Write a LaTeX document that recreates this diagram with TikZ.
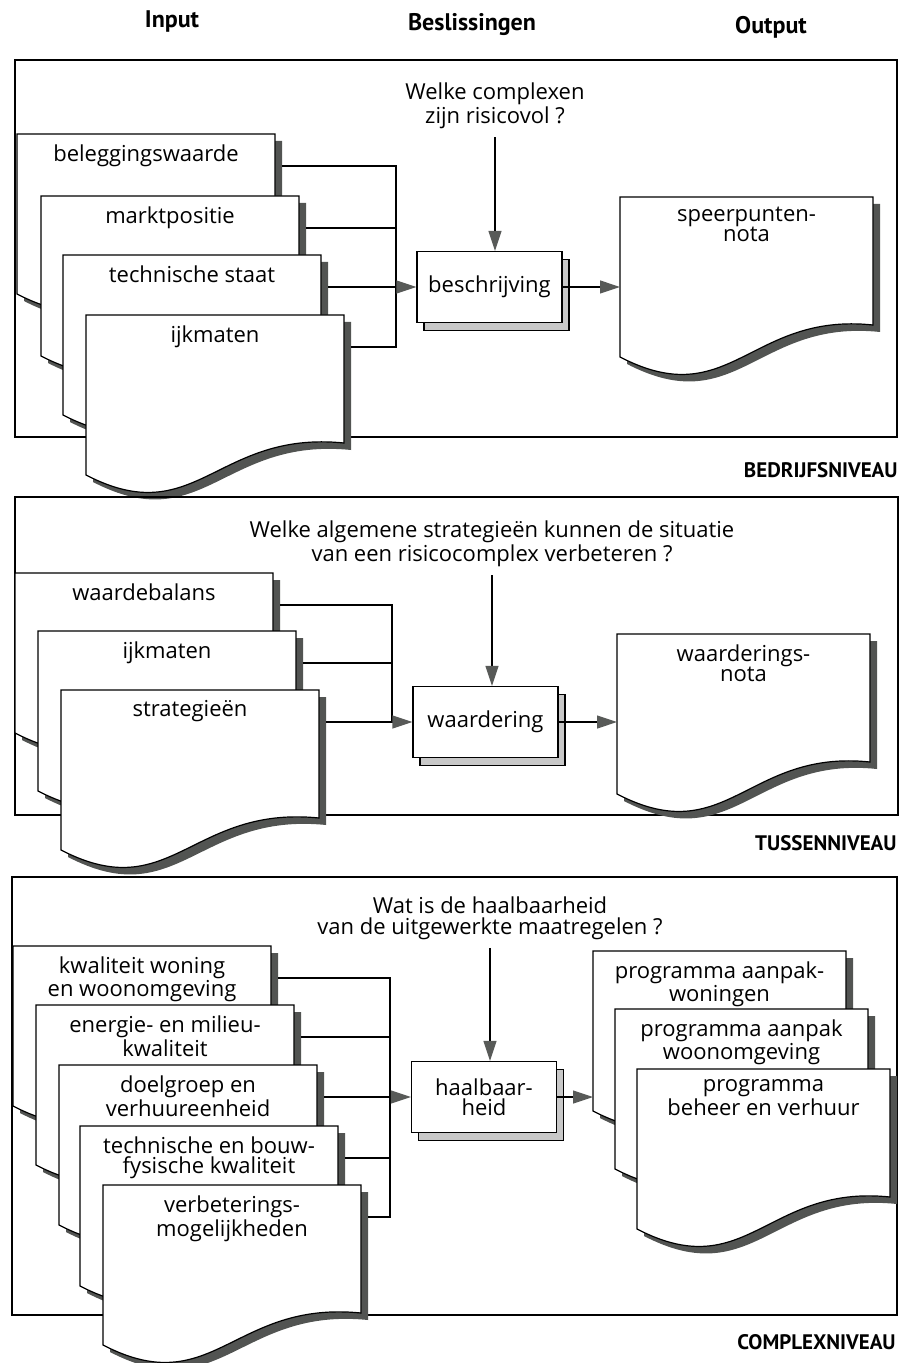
\documentclass[tikz,border=0pt]{standalone}
\usepackage{fontspec}
\setmainfont{Open Sans}
\newfontfamily\headfont{PT Sans}
\usetikzlibrary{arrows.meta,shadows}

\definecolor{docshade}{RGB}{82,84,82}
\definecolor{boxshade}{RGB}{200,200,200}
\definecolor{tipgray}{RGB}{88,90,88}

\tikzset{
  panel/.style={line width=0.6pt},
  doctext/.style={anchor=north, inner sep=0pt, align=center, font=\fontsize{11}{10}\selectfont},
  question/.style={align=center, inner sep=4pt, font=\fontsize{11}{10.5}\selectfont},
  proc/.style={draw, fill=white, line width=0.6pt, minimum width=72.5pt, minimum height=35.5pt, align=center,
    font=\fontsize{11}{10}\selectfont,
    copy shadow={shadow xshift=3.5pt, shadow yshift=-4pt, fill=boxshade, draw=black}},
  flow/.style={line width=0.6pt, -{Triangle[length=10pt,width=6.5pt,color=tipgray]}},
  header/.style={font=\headfont\bfseries\fontsize{12}{12}\selectfont},
  tier/.style={anchor=east, inner sep=0pt, font=\headfont\bfseries\fontsize{10.5}{10.5}\selectfont},
}

% document with wavy bottom: [width]{name}{top left}{text}
\newcommand{\docu}[4][258]{%
  \begin{scope}[shift={(#3)}]
    \fill[docshade] (7,7) -- (#1+7,7) -- (#1+7,135) .. controls (137,122) and (117,224) .. (7,167) -- cycle;
    \filldraw[fill=white, line width=0.6pt] (0,0) -- (#1,0) -- (#1,128) .. controls (130,115) and (110,217) .. (0,160) -- cycle;
    \coordinate (#2-nw) at (0,0);
    \coordinate (#2-out) at (#1+7,32);
    \node[doctext] (#2) at (#1/2,10) {#4};
  \end{scope}}

\begin{document}
\begin{tikzpicture}[x=0.5pt, y=-0.5pt]
    \useasboundingbox (0,0) rectangle (904,1363);

    \node[header] (hin) at (172,22) {Input};
    \node[header] (hbes) at (472,25) {Beslissingen};
    \node[header] (hout) at (771,27) {Output};

    % bedrijfsniveau
    \draw[panel] (15,60) rectangle (897,437);
    \node[tier] (t1) at (898,470) {BEDRIJFSNIVEAU};
    \node[question] (q1) at (495,106) {Welke complexen\\zijn risicovol ?};
    \docu{b1}{17,134}{beleggingswaarde}
    \docu{b2}{41,196}{marktpositie}
    \docu{b3}{63,255}{technische staat}
    \docu{b4}{86,315}{ijkmaten}
    \docu[253]{s1}{620,197}{speerpunten-\\nota}
    \node[proc] (p1) at (489.5,287) {beschrijving};
    \coordinate (bus1) at (396,0);
    \draw[panel] (b1-out) -| (bus1 |- b4-out) -- (b4-out);
    \draw[panel] (b2-out) -- (b2-out -| bus1);
    \draw[flow] (b3-out) -- (b3-out -| p1.west);
    \draw[flow] (q1.south) -- (q1.south |- p1.north);
    \draw[flow] (p1.east) -- (p1.east -| s1-nw);

    % tussenniveau
    \draw[panel] (15,497) rectangle (898,815);
    \node[tier] (t2) at (897,843) {TUSSENNIVEAU};
    \node[question] (q2) at (492,544) {Welke algemene strategieën kunnen de situatie\\van een risicocomplex verbeteren ?};
    \docu{w1}{15,573}{waardebalans}
    \docu{w2}{38,631}{ijkmaten}
    \docu{w3}{61,690}{strategieën}
    \docu[253]{s2}{617,634}{waarderings-\\nota}
    \node[proc] (p2) at (485.5,722) {waardering};
    \coordinate (bus2) at (392,0);
    \draw[panel] (w1-out) -| (bus2 |- w3-out);
    \draw[panel] (w2-out) -- (w2-out -| bus2);
    \draw[flow] (w3-out) -- (w3-out -| p2.west);
    \draw[flow] (q2.south) -- (q2.south |- p2.north);
    \draw[flow] (p2.east) -- (p2.east -| s2-nw);

    % complexniveau
    \draw[panel] (12,877) rectangle (897,1315);
    \node[tier] (t3) at (896,1342) {COMPLEXNIVEAU};
    \node[question] (q3) at (490,918) {Wat is de haalbaarheid\\van de uitgewerkte maatregelen ?};
    \docu{k1}{13,946}{kwaliteit woning\\en woonomgeving}
    \docu{k2}{36,1005}{energie- en milieu-\\kwaliteit}
    \docu{k3}{59,1065}{doelgroep en\\verhuureenheid}
    \docu{k4}{80,1126}{technische en bouw-\\fysische kwaliteit}
    \docu{k5}{103,1185}{verbeterings-\\mogelijkheden}
    \docu[253]{o1}{593,951}{programma aanpak-\\woningen}
    \docu[253]{o2}{615,1009}{programma aanpak\\woonomgeving}
    \docu[253]{o3}{637,1069}{programma\\beheer en verhuur}
    \node[proc] (p3) at (484,1097) {haalbaar-\\heid};
    \coordinate (bus3) at (390,0);
    \draw[panel] (k1-out) -| (bus3 |- k5-out) -- (k5-out);
    \draw[panel] (k2-out) -- (k2-out -| bus3);
    \draw[panel] (k4-out) -- (k4-out -| bus3);
    \draw[flow] (k3-out) -- (k3-out -| p3.west);
    \draw[flow] (q3.south) -- (q3.south |- p3.north);
    \draw[flow] (p3.east) -- (p3.east -| o1-nw);
\end{tikzpicture}
\end{document}
